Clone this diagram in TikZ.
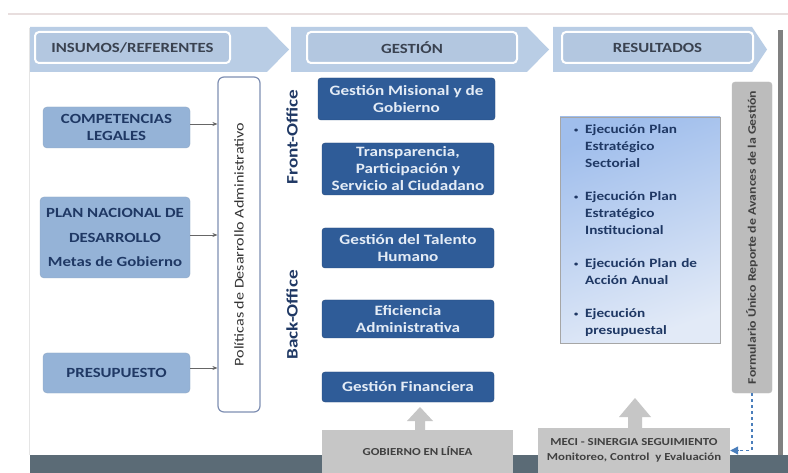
\documentclass[tikz,border=0pt]{standalone}
\usepackage{fontspec}
\setmainfont{Carlito}[FakeStretch=1.2]
\usepackage{enumitem}
\usetikzlibrary{arrows.meta}
\definecolor{band}{HTML}{B9CDE5}
\definecolor{hbox}{HTML}{B3C7E0}
\definecolor{htext}{HTML}{3A4250}
\definecolor{lbox}{HTML}{95B3D7}
\definecolor{navy}{HTML}{1F3864}
\definecolor{dbox}{HTML}{2F5C98}
\definecolor{dtext}{HTML}{E4ECF6}
\definecolor{polb}{HTML}{7F8FB3}
\definecolor{gbox}{HTML}{C6C6C6}
\definecolor{gtext}{HTML}{404040}
\definecolor{bar}{HTML}{5B6B76}
\definecolor{dashblue}{HTML}{4A7EBB}
\begin{document}
\begin{tikzpicture}[x=1pt,y=-1pt,
  headbox/.style={draw=white,line width=2pt,fill=hbox,rounded corners=4pt,
    font=\fontsize{14}{16}\selectfont\bfseries,text=htext,inner sep=0pt},
  inbox/.style={fill=lbox,rounded corners=4pt,draw=lbox!80!gray,
    font=\fontsize{14}{17}\selectfont\bfseries,text=navy,align=center,inner sep=0pt},
  gesbox/.style={fill=dbox,draw=dbox!80!black,rounded corners=3pt,
    font=\fontsize{14.3}{17}\selectfont\bfseries,text=dtext,align=center,inner sep=0pt,
    minimum width=172pt},
  botbox/.style={fill=gbox,font=\fontsize{10.7}{14.5}\selectfont\bfseries,text=gtext,align=center,inner sep=0pt},
  inarrow/.style={draw=gray!80!black,line width=0.6pt,-{Stealth[length=5pt,width=4pt]}},
  uparrow/.style={fill=gbox}
]
\useasboundingbox (0,0) rectangle (788,473);
\fill[white] (0,0) rectangle (788,473);
% top line and frame
\draw[line width=1.5pt,color={rgb,255:red,232;green,222;blue,222}] (8,14) -- (788,14);
\draw[line width=1pt,color=black!10] (29,28) -- (29,455);
\fill[black!50] (778,30) rectangle (783,455);
\fill[bar] (30,455) rectangle (788,473);
% chevron band
\fill[band] (30,27) -- (267,27) -- (289,49.5) -- (267,72) -- (30,72) -- cycle;
\fill[band] (291,27) -- (527,27) -- (549,49.5) -- (527,72) -- (291,72) -- cycle;
\fill[band] (553,27) -- (752,27) -- (767,49.5) -- (752,72) -- (553,72) -- cycle;
\node[headbox,minimum width=195pt,minimum height=31pt] (h1) at (132.5,47.5) {INSUMOS/REFERENTES};
\node[headbox,minimum width=210pt,minimum height=31pt] (h2) at (412,47.5) {GESTIÓN};
\node[headbox,minimum width=191pt,minimum height=31pt] (h3) at (657.5,47.5) {RESULTADOS};
% left inputs
\node[inbox,minimum width=147pt,minimum height=41pt] (comp) at (116.5,127.5) {COMPETENCIAS\\LEGALES};
\node[inbox,minimum width=150pt,minimum height=81pt,font=\fontsize{14}{24.5}\selectfont\bfseries] (plan) at (115,237.5) {PLAN NACIONAL DE\\DESARROLLO\\Metas de Gobierno};
\node[inbox,minimum width=147pt,minimum height=40pt] (pres) at (116.5,373) {PRESUPUESTO};
% politicas
\node[draw=polb,line width=1.2pt,fill=white,rounded corners=6pt,minimum width=42pt,minimum height=335pt] (pol) at (239,244.5) {};
\node[rotate=90,font=\fontsize{13.4}{15}\selectfont,text=black!80] (polt) at (pol.center) {Políticas de Desarrollo Administrativo};
\draw[inarrow] (comp.east |- 0,124) -- (pol.west |- 0,124);
\draw[inarrow] (plan.east |- 0,235) -- (pol.west |- 0,235);
\draw[inarrow] (pres.east |- 0,368) -- (pol.west |- 0,368);
% front/back office
\node[rotate=90,font=\fontsize{16}{18}\selectfont\bfseries,text=navy] (front) at (292,137) {Front-Office};
\node[rotate=90,font=\fontsize{16}{18}\selectfont\bfseries,text=navy] (back) at (292,315) {Back-Office};
% gestion boxes
\node[gesbox,minimum width=177pt,minimum height=42pt] (g1) at (406.5,99) {Gestión Misional y de\\Gobierno};
\node[gesbox,minimum height=52pt] (g2) at (408,169) {Transparencia,\\Participación y\\Servicio al Ciudadano};
\node[gesbox,minimum height=40pt] (g3) at (408,248) {Gestión del Talento\\Humano};
\node[gesbox,minimum height=38pt] (g4) at (408,319) {Eficiencia\\Administrativa};
\node[gesbox,minimum height=30pt] (g5) at (408,387) {Gestión Financiera};
% results
\node[draw=black!35,line width=0.8pt,shading=axis,top color={rgb,255:red,160;green,190;blue,236},bottom color={rgb,255:red,226;green,234;blue,247},shading angle=20,
  minimum width=160pt,minimum height=226pt,inner sep=0pt] (res) at (640,230) {};
\node[anchor=north west,text width=140pt,font=\fontsize{12.7}{17}\selectfont\bfseries,text=navy,inner sep=0pt] (rest) at (571,116) {%
\begin{itemize}[leftmargin=14pt,labelsep=7pt,itemsep=16pt,topsep=0pt,parsep=0pt,label={\raisebox{1pt}{\scriptsize\textbullet}}]
\item Ejecución Plan\\Estratégico\\Sectorial
\item Ejecución Plan\\Estratégico\\Institucional
\item Ejecución Plan de\\Acción Anual
\item Ejecución\\presupuestal
\end{itemize}};
% formulario
\node[fill=gbox!95!black,draw=black!25,rounded corners=3pt,minimum width=40pt,minimum height=311pt,inner sep=0pt] (form) at (752,237.5) {};
\node[rotate=90,font=\fontsize{11.5}{12}\selectfont\bfseries,text=black!75] (formt) at (form.center) {Formulario Único Reporte de Avances de la Gestión};
% bottom boxes
\node[botbox,minimum width=191pt,minimum height=43pt] (gob) at (417.5,451.5) {GOBIERNO EN LÍNEA};
\node[botbox,minimum width=192pt,minimum height=45pt] (meci) at (634,450.5) {MECI - SINERGIA SEGUIMIENTO\\Monitoreo, Control\ \ y Evaluación};
% up arrows
\fill[uparrow] (415,430) -- (415,421) -- (407,421) -- (420,407) -- (433,421) -- (425,421) -- (425,430) -- cycle;
\fill[uparrow] (628,428) -- (628,417) -- (619,417) -- (635,398) -- (651,417) -- (642,417) -- (642,428) -- cycle;
% dashed feedback
\draw[dashblue,line width=1.2pt,dash pattern=on 3pt off 3pt] (form.south) -- (form.south |- meci.east) -- ([xshift=8pt]meci.east);
\draw[dashblue,line width=1.2pt,-{Triangle[length=8pt,width=8pt]}] ([xshift=9pt]meci.east) -- (meci.east);
\end{tikzpicture}
\end{document}
